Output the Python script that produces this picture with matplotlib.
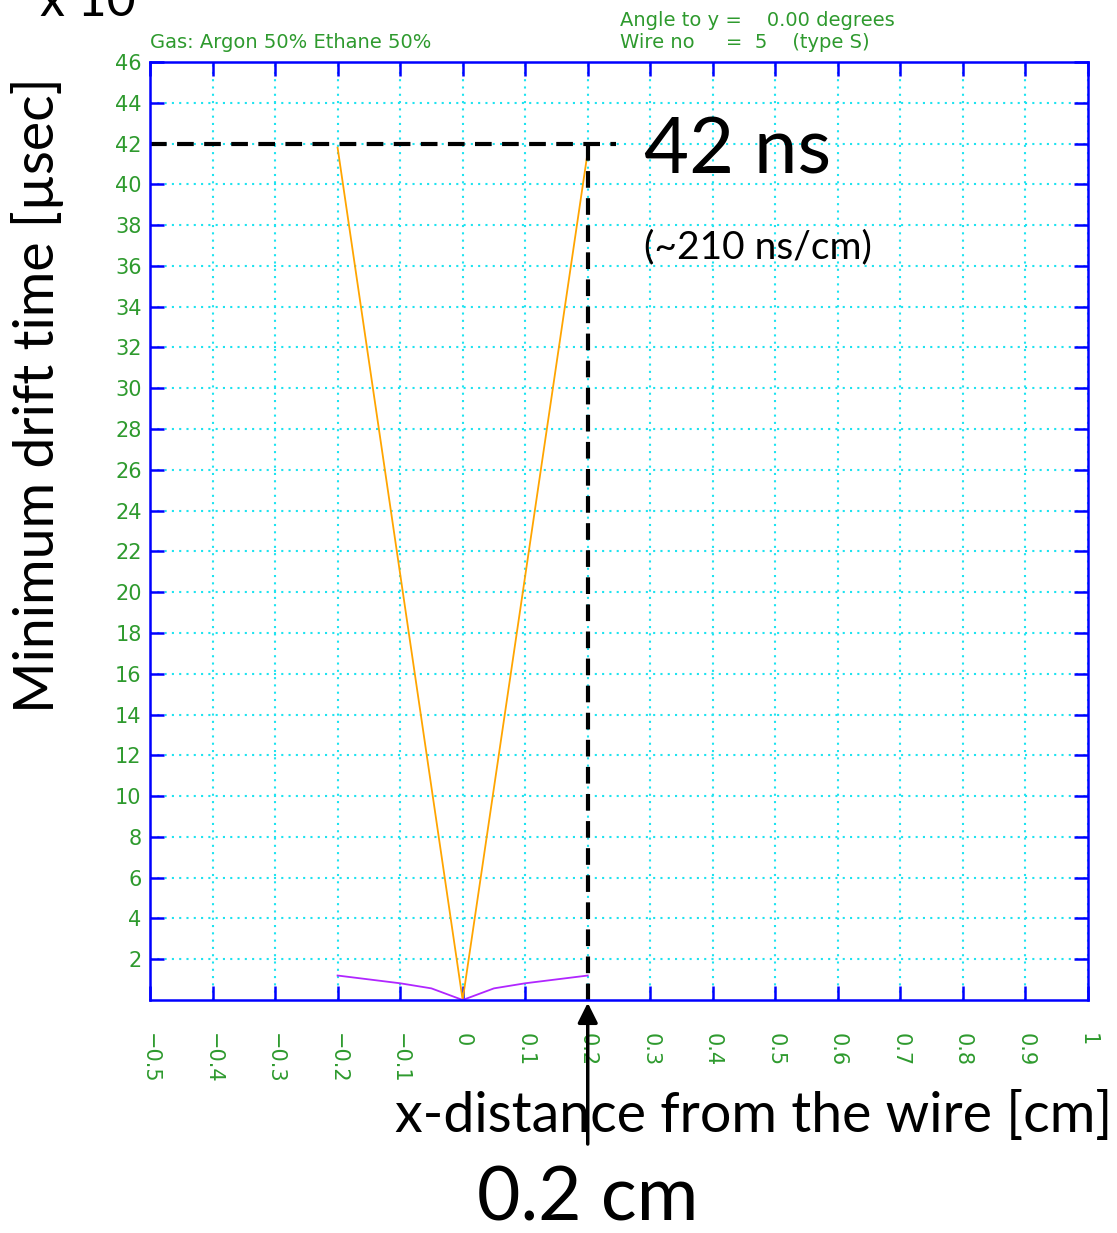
import matplotlib
matplotlib.use("Agg")
import matplotlib.pyplot as plt
import numpy as np

# data
x_orange = [-0.2, 0.0, 0.2]
t_orange = [41.8, 0.0, 41.6]
x_purple = [-0.2, -0.1, -0.05, 0.0, 0.05, 0.1, 0.2]
t_purple = [1.2, 0.82, 0.57, 0.0, 0.57, 0.82, 1.2]

xticks = [-0.5, -0.4, -0.3, -0.2, -0.1, 0, 0.1, 0.2, 0.3, 0.4, 0.5, 0.6, 0.7, 0.8, 0.9, 1]
xlabels = ["\u22120.5", "\u22120.4", "\u22120.3", "\u22120.2", "\u22120.1", "0", "0.1", "0.2",
           "0.3", "0.4", "0.5", "0.6", "0.7", "0.8", "0.9", "1"]
yticks = list(range(2, 47, 2))

green = "#2e9a2e"
big = "Lato"

fig = plt.figure(figsize=(11.17, 12.33), dpi=100)
ax = fig.add_axes([150 / 1117, 1 - 1000 / 1233, 938 / 1117, 938 / 1233])

ax.plot(x_orange, t_orange, color="orange", lw=1.3)
ax.plot(x_purple, t_purple, color="#b026ff", lw=1.3)

ax.set_xlim(-0.5, 1.0)
ax.set_ylim(0, 46)
ax.set_xticks(xticks)
ax.set_xticklabels(xlabels, rotation=-90, va="top", ha="center")
ax.set_yticks(yticks)
ax.grid(True, color="#1ee3f0", ls=(0, (1, 2.5)), lw=1.5)
for s in ax.spines.values():
    s.set_color("blue")
    s.set_linewidth(1.8)
ax.tick_params(direction="in", length=10, width=1.8, color="blue", top=True, right=True,
               labelcolor=green, labelsize=15, pad=12)
ax.tick_params(axis="x", pad=24)
ax.tick_params(axis="y", pad=6)

# annotation lines
ax.plot([-0.5, 0.245], [42, 42], color="black", ls=(0, (4, 2.5)), lw=3, clip_on=False)
ax.plot([0.2, 0.2], [42, 0], color="black", ls=(0, (4, 2.5)), lw=3, clip_on=False)
ax.annotate("", xy=(0.2, 0), xycoords="data", xytext=(0.2, -7.2), textcoords="data",
            arrowprops=dict(arrowstyle="-|>", color="black", lw=2.5, mutation_scale=30),
            annotation_clip=False)

ax.text(0.29, 41.6, "42 ns", fontsize=56, family=big, va="center", ha="left")
ax.text(0.29, 36.9, "(~210 ns/cm)", fontsize=28, family=big, va="center", ha="left")

fig.text(1112 / 1117, 1 - 1116 / 1233, "x-distance from the wire [cm]", fontsize=40,
         family=big, ha="right", va="center")
fig.text(588 / 1117, 1 - 1199 / 1233, "0.2 cm", fontsize=54, family=big, ha="center", va="center")
fig.text(38 / 1117, 1 - 395 / 1233, "Minimum drift time [\u00b5sec]", fontsize=40, family=big,
         rotation=90, ha="center", va="center")
fig.text(40 / 1117, 1 - 2 / 1233, "x 10", fontsize=36, family=big, ha="left", va="center")

fig.text(150 / 1117, 1 - 43 / 1233, "Gas: Argon 50% Ethane 50%", fontsize=14, color=green,
         ha="left", va="center")
fig.text(620 / 1117, 1 - 20 / 1233, "Angle to y =    0.00 degrees", fontsize=14, color=green,
         ha="left", va="center")
fig.text(620 / 1117, 1 - 43 / 1233, "Wire no     =  5    (type S)", fontsize=14, color=green,
         ha="left", va="center")

fig.savefig("out.png", dpi=100)
